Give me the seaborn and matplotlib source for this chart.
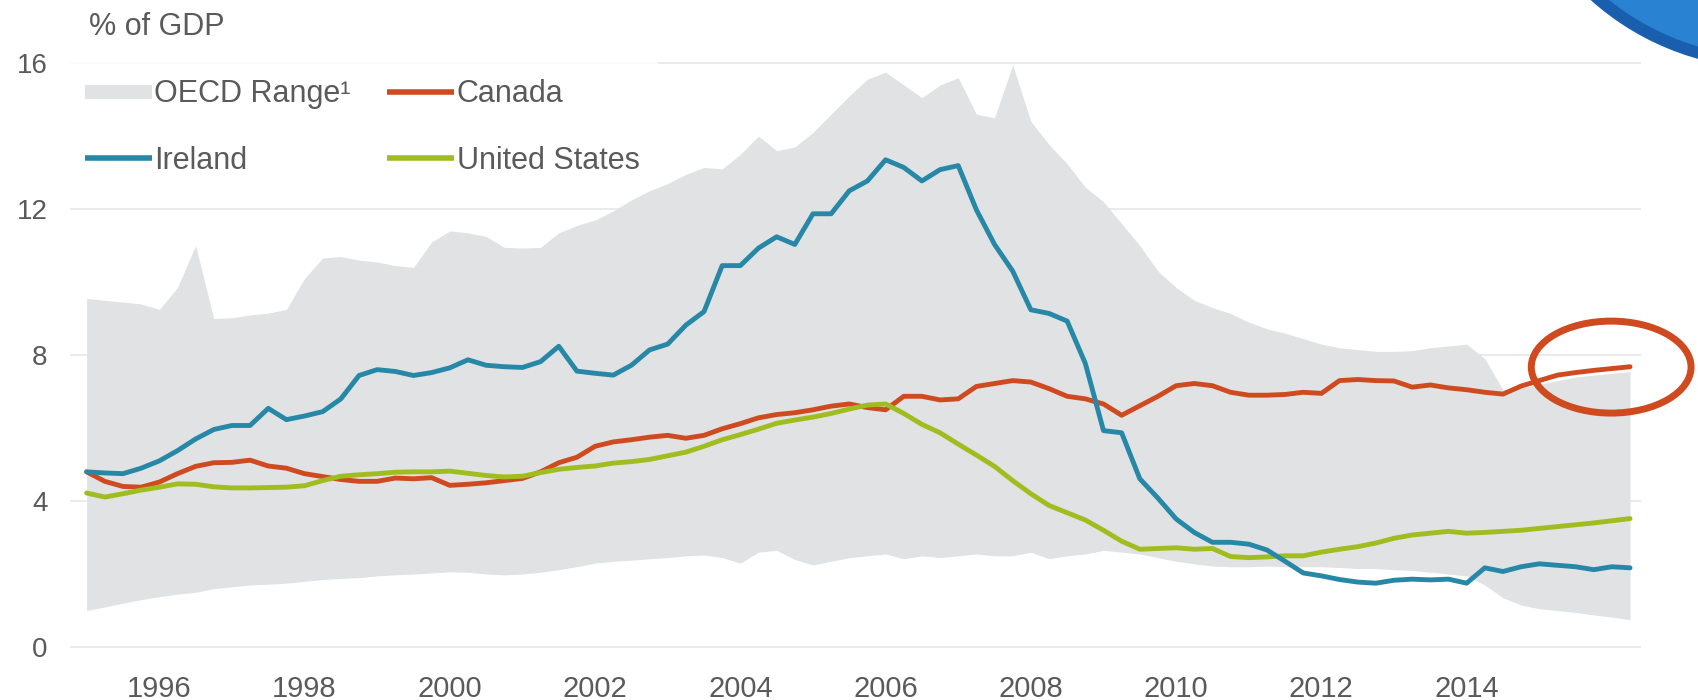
import numpy as np
import pandas as pd
import matplotlib
matplotlib.use("Agg")
import matplotlib.pyplot as plt
from matplotlib.patches import Ellipse
from matplotlib.lines import Line2D
import seaborn as sns

# quarterly observations, 1995Q1 .. 2016Q2
quarters = 1995 + 0.25 * np.arange(86)

ireland = [
    4.80, 4.77, 4.75, 4.90, 5.10, 5.38, 5.70, 5.96, 6.07, 6.07,
    6.54, 6.23, 6.33, 6.45, 6.80, 7.44, 7.60, 7.55, 7.44, 7.52,
    7.65, 7.87, 7.72, 7.68, 7.66, 7.82, 8.24, 7.56, 7.50, 7.45,
    7.72, 8.14, 8.30, 8.82, 9.19, 10.45, 10.45, 10.93, 11.24, 11.03,
    11.87, 11.87, 12.50, 12.77, 13.35, 13.14, 12.77, 13.08, 13.19, 11.98,
    11.03, 10.30, 9.24, 9.14, 8.93, 7.77, 5.93, 5.87, 4.61, 4.08,
    3.51, 3.14, 2.87, 2.87, 2.82, 2.66, 2.35, 2.03, 1.95, 1.85,
    1.78, 1.75, 1.83, 1.86, 1.84, 1.86, 1.75, 2.17, 2.07, 2.20,
    2.28, 2.24, 2.20, 2.12, 2.20, 2.17,
]
canada = [
    4.80, 4.54, 4.40, 4.38, 4.52, 4.75, 4.95, 5.05, 5.06, 5.12,
    4.96, 4.90, 4.75, 4.67, 4.59, 4.54, 4.54, 4.63, 4.61, 4.64,
    4.43, 4.46, 4.50, 4.56, 4.62, 4.80, 5.05, 5.20, 5.50, 5.62,
    5.68, 5.75, 5.80, 5.72, 5.80, 5.98, 6.12, 6.28, 6.37, 6.42,
    6.50, 6.60, 6.66, 6.56, 6.50, 6.87, 6.87, 6.77, 6.80, 7.14,
    7.22, 7.30, 7.26, 7.08, 6.87, 6.80, 6.66, 6.35, 6.61, 6.87,
    7.16, 7.22, 7.16, 6.98, 6.90, 6.90, 6.92, 6.98, 6.95, 7.30,
    7.33, 7.30, 7.29, 7.12, 7.18, 7.10, 7.05, 6.98, 6.93, 7.15,
    7.30, 7.45, 7.52, 7.58, 7.63, 7.68,
]
united_states = [
    4.22, 4.11, 4.20, 4.30, 4.38, 4.47, 4.46, 4.39, 4.36, 4.36,
    4.37, 4.38, 4.42, 4.56, 4.68, 4.72, 4.75, 4.79, 4.80, 4.80,
    4.82, 4.76, 4.70, 4.66, 4.68, 4.78, 4.87, 4.92, 4.96, 5.04,
    5.08, 5.14, 5.24, 5.34, 5.50, 5.68, 5.82, 5.97, 6.13, 6.22,
    6.30, 6.40, 6.52, 6.63, 6.66, 6.40, 6.10, 5.87, 5.56, 5.26,
    4.95, 4.56, 4.20, 3.88, 3.68, 3.48, 3.20, 2.90, 2.68, 2.70,
    2.72, 2.68, 2.70, 2.48, 2.45, 2.47, 2.50, 2.50, 2.60, 2.68,
    2.75, 2.85, 2.98, 3.07, 3.12, 3.17, 3.12, 3.14, 3.17, 3.20,
    3.25, 3.30, 3.35, 3.40, 3.46, 3.52,
]
oecd_high = [
    9.55, 9.50, 9.45, 9.40, 9.25, 9.85, 11.00, 9.00, 9.02, 9.10,
    9.15, 9.25, 10.10, 10.66, 10.70, 10.60, 10.55, 10.45, 10.40, 11.10,
    11.40, 11.35, 11.25, 10.95, 10.93, 10.95, 11.35, 11.55, 11.70, 11.95,
    12.25, 12.50, 12.70, 12.95, 13.14, 13.10, 13.50, 14.00, 13.60, 13.70,
    14.10, 14.60, 15.10, 15.56, 15.75, 15.40, 15.05, 15.40, 15.60, 14.60,
    14.50, 15.95, 14.40, 13.77, 13.24, 12.60, 12.20, 11.60, 11.00, 10.30,
    9.85, 9.50, 9.30, 9.14, 8.90, 8.72, 8.60, 8.45, 8.30, 8.20,
    8.15, 8.10, 8.10, 8.12, 8.20, 8.25, 8.30, 7.90, 7.05, 7.10,
    7.20, 7.30, 7.40, 7.45, 7.50, 7.55,
]
oecd_low = [
    1.00, 1.10, 1.20, 1.30, 1.38, 1.45, 1.50, 1.60, 1.65, 1.70,
    1.72, 1.75, 1.80, 1.85, 1.88, 1.90, 1.95, 1.98, 2.00, 2.03,
    2.06, 2.05, 2.00, 1.98, 2.00, 2.05, 2.12, 2.20, 2.30, 2.35,
    2.38, 2.42, 2.45, 2.50, 2.52, 2.45, 2.30, 2.60, 2.65, 2.40,
    2.25, 2.35, 2.45, 2.50, 2.55, 2.42, 2.50, 2.45, 2.50, 2.55,
    2.50, 2.50, 2.60, 2.42, 2.50, 2.55, 2.65, 2.60, 2.55, 2.45,
    2.35, 2.28, 2.22, 2.20, 2.20, 2.22, 2.20, 2.20, 2.20, 2.18,
    2.15, 2.15, 2.12, 2.10, 2.05, 2.00, 1.95, 1.70, 1.35, 1.15,
    1.05, 1.00, 0.95, 0.88, 0.82, 0.75,
]

year_ticks = [1996, 1998, 2000, 2002, 2004, 2006, 2008, 2010, 2012, 2014]
value_ticks = [0, 4, 8, 12, 16]

colors = {"Canada": "#cf4a1f", "Ireland": "#2688a6", "United States": "#9fbd1f"}
band_color = "#e0e2e4"
text_color = "#5a5a5a"

df = pd.DataFrame({
    "quarter": np.tile(quarters, 3),
    "value": ireland + united_states + canada,
    "country": ["Ireland"] * 86 + ["United States"] * 86 + ["Canada"] * 86,
})

sns.set_theme(style="white")
plt.rcParams["font.family"] = ["Liberation Sans", "DejaVu Sans"]

fig = plt.figure(figsize=(16.98, 7.0), dpi=100)
ax = fig.add_axes([0.0412, 0.06, 0.9252, 0.876])

ax.fill_between(quarters, oecd_low, oecd_high, color=band_color, lw=0, zorder=1)
sns.lineplot(data=df, x="quarter", y="value", hue="country", palette=colors,
             hue_order=["Canada", "United States", "Ireland"],
             linewidth=3.5, legend=False, ax=ax, zorder=3)

ax.set_xlim(1994.77, 2016.40)
ax.set_ylim(-0.3, 16.5)
ax.set_xticks(year_ticks)
ax.set_yticks(value_ticks)
ax.set_xlabel("")
ax.set_ylabel("")
ax.grid(axis="y", color="#e8e8e8", linewidth=1.3)
ax.grid(axis="x", visible=False)
ax.set_axisbelow(True)
for s in ax.spines.values():
    s.set_visible(False)
ax.tick_params(axis="x", length=0, pad=12, labelsize=21, labelcolor=text_color)
ax.tick_params(axis="y", length=0, pad=16, labelsize=20, labelcolor=text_color)

# circle around Canada's latest values
ax.add_patch(Ellipse((2015.99, 7.67), 2.2, 2.52, fill=False, edgecolor=colors["Canada"],
                     linewidth=5, clip_on=False, zorder=5))

handles = [
    Line2D([0], [0], color=band_color, lw=10, solid_capstyle="butt"),
    Line2D([0], [0], color=colors["Ireland"], lw=4, solid_capstyle="butt"),
    Line2D([0], [0], color=colors["Canada"], lw=4, solid_capstyle="butt"),
    Line2D([0], [0], color=colors["United States"], lw=4, solid_capstyle="butt"),
]
labels = ["OECD Range\u00b9", "Ireland", "Canada", "United States"]
leg = ax.legend(handles, labels, ncol=2, loc="upper left",
                bbox_to_anchor=(0.039, 0.913), bbox_transform=fig.transFigure,
                fontsize=22, frameon=True, fancybox=False, borderpad=0.6,
                borderaxespad=0, handlelength=2.2, handletextpad=0.08,
                columnspacing=1.2, labelspacing=1.2, labelcolor=text_color)
leg.get_frame().set_facecolor("white")
leg.get_frame().set_edgecolor("none")
# legend box hides the top gridline but sits under the range band
leg.set_zorder(0.8)

fig.text(0.0525, 0.961, "% of GDP", fontsize=22, color=text_color, va="center", ha="left")

# decorative corner swoosh
fig.add_artist(Ellipse((1770 / 1698, 1 + 200 / 700), 2 * 268 / 1698, 2 * 268 / 700,
                       transform=fig.transFigure, color="#1a5fae", zorder=10))
fig.add_artist(Ellipse((1770 / 1698, 1 + 200 / 700), 2 * 256 / 1698, 2 * 256 / 700,
                       transform=fig.transFigure, color="#2a82d2", zorder=11))

fig.savefig("out.png", dpi=100, facecolor="white")
